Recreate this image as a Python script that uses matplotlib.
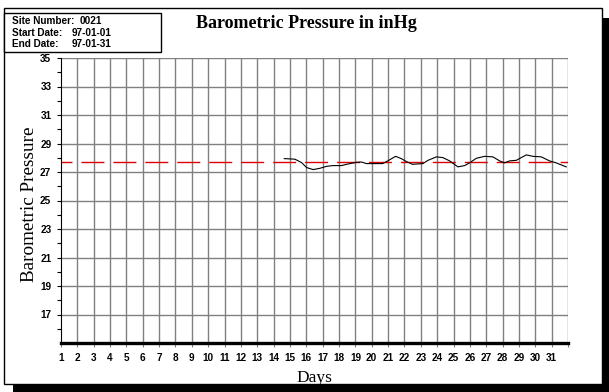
import matplotlib
matplotlib.use('Agg')
import matplotlib.pyplot as plt
from matplotlib.patches import Rectangle

# pressure trace (day of month, inHg)
days = [14.65, 15.3, 15.71, 16.02, 16.42, 16.83, 17.24, 17.64, 18.15, 18.46,
        19.07, 19.37, 19.68, 20.67, 20.98, 21.46, 21.81, 22.12, 22.5, 23.13,
        23.44, 23.95, 24.35, 24.76, 25.27, 25.68, 25.98, 26.39, 26.9, 27.41,
        27.82, 28.12, 28.43, 28.84, 29.14, 29.45, 29.85, 30.37, 30.87, 31.28,
        31.89]
pressure = [27.94, 27.9, 27.66, 27.31, 27.17, 27.26, 27.4, 27.45, 27.45, 27.54,
            27.68, 27.7, 27.59, 27.59, 27.78, 28.1, 27.94, 27.73, 27.54, 27.59,
            27.82, 28.06, 28.01, 27.78, 27.36, 27.45, 27.64, 27.96, 28.1, 28.06,
            27.78, 27.64, 27.78, 27.82, 28.01, 28.2, 28.1, 28.06, 27.78, 27.64,
            27.36]
mean_pressure = 27.7

day_ticks = list(range(1, 33))
day_labels = [str(d) for d in range(1, 32)] + ['']
major_y = list(range(17, 36, 2))
minor_y = list(range(16, 35, 2))

site_labels = ['Site Number:', 'Start Date:', 'End Date:']
site_values = ['0021', '97-01-01', '97-01-31']

W, H = 609, 392
small = dict(family='Liberation Sans', fontweight='bold', fontsize=7.2)

fig = plt.figure(figsize=(W / 100, H / 100), dpi=100)

# outer frame with drop shadow
fig.patches.append(Rectangle((13 / W, 0), 596 / W, 8 / H, transform=fig.transFigure,
                             facecolor='black', edgecolor='none', zorder=0))
fig.patches.append(Rectangle((602 / W, 0), 7 / W, 374 / H, transform=fig.transFigure,
                             facecolor='black', edgecolor='none', zorder=0))
fig.patches.append(Rectangle((4 / W, 8 / H), 598 / W, 376 / H, transform=fig.transFigure,
                             facecolor='white', edgecolor='black', linewidth=1, zorder=1))
# site info box
fig.patches.append(Rectangle((4 / W, 1 - 52 / H), 157 / W, 39 / H, transform=fig.transFigure,
                             facecolor='white', edgecolor='black', linewidth=1, zorder=2))
for i, (lab, val) in enumerate(zip(site_labels, site_values)):
    yy = 1 - (21 + 11.5 * i) / H
    fig.text(12 / W, yy, lab, va='center', zorder=3, **small)
    x_val = 80 / W if i == 0 else 72 / W
    fig.text(x_val, yy, val, va='center', zorder=3, **small)

fig.text(306 / W, 1 - 24 / H, 'Barometric Pressure in inHg', family='Liberation Serif',
         fontweight='bold', fontsize=13, ha='center', va='center', zorder=3)

ax = fig.add_axes([61 / W, 1 - 343 / H, 507 / W, 285 / H], zorder=4)
ax.set_xlim(1, 32)
ax.set_ylim(15, 35)

ax.set_xticks(day_ticks)
ax.set_xticklabels(day_labels, **small)
ax.set_yticks(major_y)
ax.set_yticklabels([str(v) for v in major_y], **small)
ax.set_yticks(minor_y, minor=True)
ax.tick_params(axis='x', length=3, width=0.8, pad=4, color='#808080')
ax.tick_params(axis='y', which='both', length=3, width=0.8, pad=4)

for d in day_ticks[1:]:
    ax.axvline(d, color='#808080', linewidth=1, zorder=1)
for v in major_y:
    ax.axhline(v, color='#808080', linewidth=1, zorder=1)

ax.axhline(mean_pressure, color='#e00000', linewidth=1,
           linestyle=(8.6, (16.5, 6.5)), zorder=2)
ax.plot(days, pressure, color='black', linewidth=0.8, zorder=3)

for side in ['top', 'right']:
    ax.spines[side].set_visible(False)
ax.spines['left'].set_linewidth(0.8)
ax.spines['bottom'].set_linewidth(2.4)

ax.set_xlabel('Days', family='Liberation Serif', fontsize=12.5, labelpad=5)
ax.set_ylabel('Barometric Pressure', family='Liberation Serif', fontsize=13.8, va='center')
ax.yaxis.set_label_coords(-31 / 507, (343 - 204) / 285)

fig.savefig('out.png', dpi=100)
